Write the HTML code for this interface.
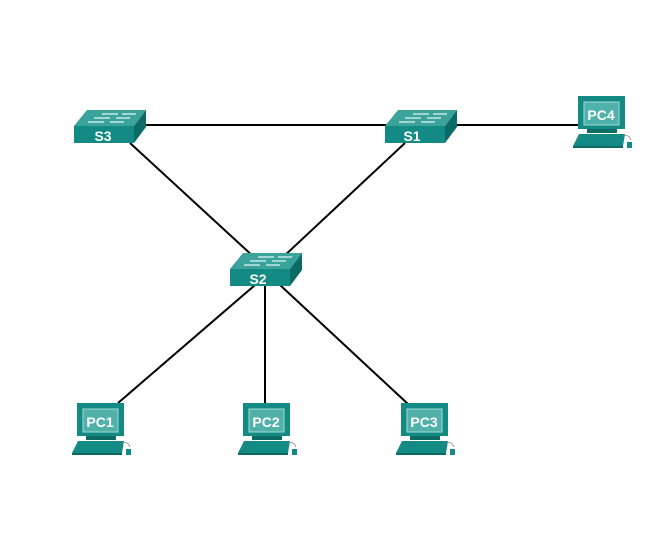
<!DOCTYPE html>
<html><head><style>body{margin:0;background:#fff}svg{display:block}</style></head><body>
<svg width="653" height="556" viewBox="0 0 653 556" xmlns="http://www.w3.org/2000/svg">
<defs>
<g id="sw">
<polygon points="0,16 13,0 72,0 60,16" fill="#3aa39b"/>
<polygon points="60,16 72,0 72,17 60,33" fill="#0d6b66"/>
<rect x="0" y="16" width="60" height="17" fill="#138b84"/>
<g stroke="#d8f0ee" stroke-width="1.3" fill="none">
<line x1="28" y1="4" x2="44" y2="4"/><line x1="48" y1="4" x2="62" y2="4"/>
<line x1="20" y1="8" x2="36" y2="8"/><line x1="42" y1="8" x2="56" y2="8"/>
<line x1="14" y1="12" x2="30" y2="12"/><line x1="36" y1="12" x2="50" y2="12"/>
</g>
</g>
<g id="pc">
<rect x="5" y="0" width="47" height="33" fill="#138b84"/>
<rect x="11" y="6" width="35" height="23" fill="#4fb1aa" stroke="#a5d8d3" stroke-width="1"/>
<rect x="14" y="33" width="30" height="4" fill="#0d6b66"/>
<polygon points="6,38 52,38 50,50 0,50" fill="#138b84"/>
<polygon points="0,50 50,50 50,52 0,52" fill="#0d6b66"/>
<rect x="54" y="46" width="5" height="6" fill="#138b84"/>
<path d="M50,40 q6,-2 8,4" stroke="#888" fill="none" stroke-width="0.8"/>
</g>
</defs>
<g stroke="#000" stroke-width="2">
<line x1="140" y1="125" x2="390" y2="125"/>
<line x1="450" y1="125" x2="580" y2="125"/>
<line x1="130" y1="143" x2="255" y2="258"/>
<line x1="405" y1="143" x2="282" y2="258"/>
<line x1="255" y1="285" x2="118" y2="403"/>
<line x1="265" y1="285" x2="265" y2="404"/>
<line x1="280" y1="285" x2="408" y2="404"/>
</g>
<g font-family="Liberation Sans, sans-serif" font-weight="bold" fill="#fff" text-anchor="middle">
<use href="#sw" x="74" y="110"/><text x="103" y="141" font-size="14">S3</text>
<use href="#sw" x="385" y="110"/><text x="412" y="141" font-size="14">S1</text>
<use href="#sw" x="230" y="253"/><text x="258" y="284" font-size="14">S2</text>
<use href="#pc" x="573" y="96"/><text x="601" y="120" font-size="14">PC4</text>
<use href="#pc" x="72" y="403"/><text x="100" y="427" font-size="14">PC1</text>
<use href="#pc" x="238" y="403"/><text x="266" y="427" font-size="14">PC2</text>
<use href="#pc" x="396" y="403"/><text x="424" y="427" font-size="14">PC3</text>
</g>
</svg>
</body></html>
